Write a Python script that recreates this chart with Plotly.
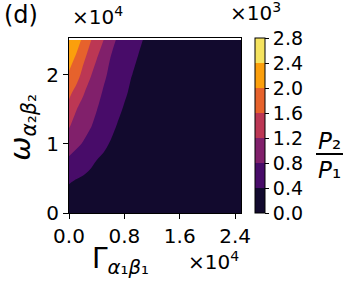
"""
Contour map of P2/P1 over (Gamma_a1b1, omega_a2b2), panel (d).
"""

import plotly.graph_objects as go

# ─────────────────────────────────────────────
# Data (x, y in units of 1e4, ratio in units of 1e3)
# ─────────────────────────────────────────────

gamma = [0.0, 0.1, 0.2, 0.3, 0.4, 0.5, 0.6, 0.7, 0.8, 0.9, 1.0, 1.1, 1.2, 1.5, 2.0, 2.5]
omega = [0.0, 0.25, 0.5, 0.75, 1.0, 1.25, 1.5, 1.75, 2.0, 2.25, 2.5]

# one row per omega value, one column per gamma value
ratio = [
    [0.00, 0.00, 0.00, 0.00, 0.00, 0.00, 0.00, 0.00, 0.00, 0.00, 0.00, 0.00, 0.00, 0.00, 0.00, 0.00],
    [0.24, 0.22, 0.20, 0.18, 0.16, 0.14, 0.12, 0.10, 0.09, 0.08, 0.07, 0.06, 0.05, 0.04, 0.02, 0.01],
    [0.48, 0.41, 0.37, 0.33, 0.29, 0.26, 0.23, 0.20, 0.18, 0.16, 0.14, 0.12, 0.11, 0.08, 0.05, 0.03],
    [0.73, 0.64, 0.56, 0.47, 0.39, 0.34, 0.30, 0.27, 0.24, 0.21, 0.19, 0.17, 0.15, 0.10, 0.06, 0.04],
    [0.975, 0.88, 0.78, 0.67, 0.57, 0.46, 0.38, 0.33, 0.29, 0.25, 0.22, 0.19, 0.17, 0.11, 0.07, 0.04],
    [1.22, 1.08, 0.95, 0.83, 0.71, 0.60, 0.48, 0.38, 0.32, 0.28, 0.24, 0.21, 0.19, 0.13, 0.08, 0.05],
    [1.46, 1.22, 1.08, 0.95, 0.81, 0.70, 0.60, 0.47, 0.37, 0.31, 0.27, 0.23, 0.20, 0.14, 0.09, 0.05],
    [1.70, 1.49, 1.25, 1.07, 0.91, 0.77, 0.66, 0.56, 0.45, 0.35, 0.30, 0.26, 0.23, 0.15, 0.10, 0.06],
    [1.95, 1.78, 1.50, 1.25, 1.05, 0.86, 0.73, 0.62, 0.52, 0.41, 0.34, 0.29, 0.26, 0.17, 0.11, 0.07],
    [2.19, 1.96, 1.70, 1.46, 1.22, 1.02, 0.80, 0.68, 0.58, 0.49, 0.39, 0.33, 0.29, 0.19, 0.12, 0.08],
    [2.38, 2.20, 1.93, 1.65, 1.42, 1.20, 0.96, 0.75, 0.65, 0.55, 0.46, 0.37, 0.32, 0.21, 0.13, 0.08],
]

levels = [0.0, 0.4, 0.8, 1.2, 1.6, 2.0, 2.4, 2.8]
level_labels = ["0.0", "0.4", "0.8", "1.2", "1.6", "2.0", "2.4", "2.8"]
x_ticks = [0.0, 0.8, 1.6, 2.4]
x_tick_labels = ["0.0", "0.8", "1.6", "2.4"]
y_ticks = [0, 1, 2]
y_tick_labels = ["0", "1", "2"]

# inferno sampled at the band centres
band_colors = ["#120a2e", "#480c69", "#81206b", "#bc3754", "#e6622c", "#fb9f0c", "#f5e35f"]

FONT = "DejaVu Sans"

# ─────────────────────────────────────────────
# Colour scales
# ─────────────────────────────────────────────

n = len(band_colors)
# contour fills pick colours at k/(n-1)
fill_scale = [[i / (n - 1), c] for i, c in enumerate(band_colors)]
# stepped scale for the colour bar, one flat block per band
step_scale = []
for i, c in enumerate(band_colors):
    step_scale.append([i / n, c])
    step_scale.append([(i + 1) / n, c])

fig = go.Figure()

fig.add_trace(go.Contour(
    x=gamma, y=omega, z=ratio,
    colorscale=fill_scale,
    contours=dict(start=levels[1], end=levels[-2], size=levels[1] - levels[0],
                  coloring="fill", showlines=False),
    line=dict(width=0, smoothing=1),
    showscale=False,
    hoverinfo="skip",
))

# invisible trace that only carries the discrete colour bar
fig.add_trace(go.Scatter(
    x=[None, None], y=[None, None], mode="markers",
    marker=dict(
        color=[levels[0], levels[-1]], cmin=levels[0], cmax=levels[-1],
        colorscale=step_scale, showscale=True,
        colorbar=dict(
            x=1.083, xanchor="left", xpad=0,
            y=0.5, yanchor="middle", len=1.0, lenmode="fraction", ypad=0,
            thickness=10,
            outlinewidth=1, outlinecolor="black",
            tickvals=levels, ticktext=level_labels,
            ticks="outside", ticklen=4, tickwidth=1, tickcolor="black",
            tickfont=dict(family=FONT, size=19, color="black"),
        ),
    ),
    showlegend=False, hoverinfo="skip",
))

axis_style = dict(
    showline=True, mirror=True, linecolor="black", linewidth=1,
    ticks="outside", ticklen=5, tickwidth=1, tickcolor="black",
    showgrid=False, zeroline=False,
    tickfont=dict(family=FONT, size=20, color="black"),
)

fig.update_xaxes(range=[0, 2.485], tickvals=x_ticks, ticktext=x_tick_labels, **axis_style)
fig.update_yaxes(range=[0, 2.53], tickvals=y_ticks, ticktext=y_tick_labels, **axis_style)

annotations = [
    dict(text="(d)", x=-0.39, y=1.225, xanchor="left", yanchor="top", font=dict(size=24)),
    dict(text="×10<sup>4</sup>", x=0.005, y=1.04, xanchor="left", yanchor="bottom", font=dict(size=20)),
    dict(text="×10<sup>3</sup>", x=0.925, y=1.06, xanchor="left", yanchor="bottom", font=dict(size=20)),
    dict(text="×10<sup>4</sup>", x=1.0, y=-0.188, xanchor="right", yanchor="top", font=dict(size=20)),
    dict(text="Γ<sub><i>α</i>₁<i>β</i>₁</sub>", x=0.302, y=-0.155, xanchor="center", yanchor="top",
         font=dict(size=28)),
    dict(text="<i>ω</i><sub><i>α</i>₂<i>β</i>₂</sub>", x=-0.27, y=0.49, xanchor="center", yanchor="middle",
         textangle=-90, font=dict(size=29)),
    dict(text="<i>P</i>₂", x=1.512, y=0.411, xanchor="center", yanchor="middle", font=dict(size=23)),
    dict(text="<i>P</i>₁", x=1.512, y=0.245, xanchor="center", yanchor="middle", font=dict(size=23)),
]
for a in annotations:
    a.update(xref="paper", yref="paper", showarrow=False)
    a["font"].update(family=FONT, color="black")

fig.update_layout(
    width=354, height=284,
    margin=dict(l=69, r=113, t=38, b=71),
    paper_bgcolor="white", plot_bgcolor="white",
    font=dict(family=FONT, color="black"),
    annotations=annotations,
    shapes=[dict(type="line", xref="paper", yref="paper",
                 x0=1.436, x1=1.593, y0=0.337, y1=0.337,
                 line=dict(color="black", width=2))],
    showlegend=False,
)

# drop the default page margin so the figure sits at the window origin
fig.write_html("out.html", config={"displayModeBar": False},
               post_script="document.body.style.margin='0px';")
